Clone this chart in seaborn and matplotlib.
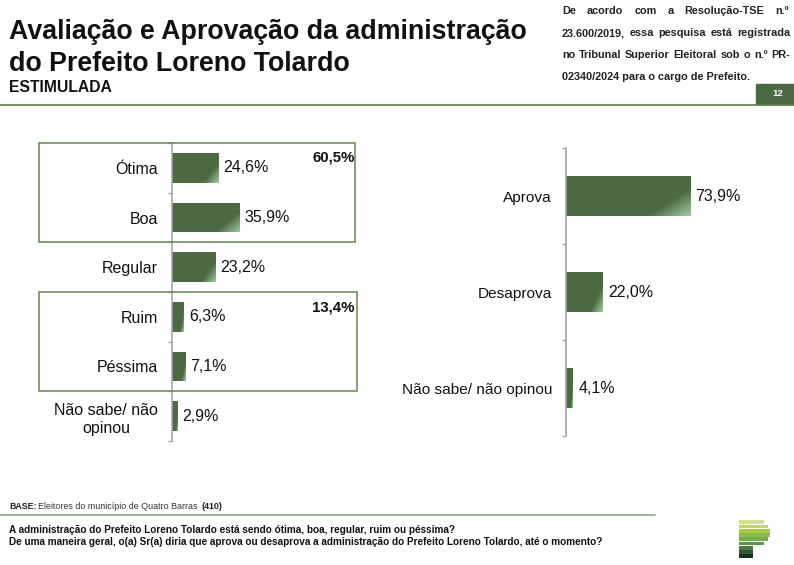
import numpy as np
import pandas as pd
import matplotlib
matplotlib.use("Agg")
import matplotlib.pyplot as plt
from matplotlib.colors import LinearSegmentedColormap
from matplotlib.patches import Rectangle
import seaborn as sns

sns.set_theme(style="white")
plt.rcParams["font.family"] = ["Liberation Sans", "DejaVu Sans"]

W, H = 794, 565

# data
aval_labels = ["Ótima", "Boa", "Regular", "Ruim", "Péssima", "Não sabe/ não\nopinou"]
aval_values = [24.6, 35.9, 23.2, 6.3, 7.1, 2.9]
aprov_labels = ["Aprova", "Desaprova", "Não sabe/ não opinou"]
aprov_values = [73.9, 22.0, 4.1]
group_top = "60,5%"
group_bottom = "13,4%"

GREEN = "#4c6a42"
LINE = "#64864a"
grad = LinearSegmentedColormap.from_list("bar", ["#4c6a42", "#a0cba0"])


def px_axes(fig, left, top, right, bottom):
    return fig.add_axes([left / W, 1 - bottom / H, (right - left) / W, (bottom - top) / H])


def fill_gradient(ax):
    # dark fill, lighter only in the lower right corner of each bar
    xx, yy = np.meshgrid(np.linspace(0, 1, 80), np.linspace(0, 1, 80))
    g = np.clip((0.87 * xx + 0.43 * yy - 1.0) / 0.3, 0, 1)
    xlim, ylim = ax.get_xlim(), ax.get_ylim()
    for bar in ax.patches:
        x0, y0 = bar.get_x(), bar.get_y()
        x1, y1 = x0 + bar.get_width(), y0 + bar.get_height()
        # y axis is inverted so the first row goes to the top
        im = ax.imshow(g, cmap=grad, vmin=0, vmax=1, aspect="auto", origin="upper",
                       extent=(x0, x1, y1, y0), zorder=bar.get_zorder() + 0.1)
        im.set_clip_path(Rectangle((x0, y0), x1 - x0, y1 - y0, transform=ax.transData))
    ax.set_xlim(xlim)
    ax.set_ylim(ylim)


def bar_panel(ax, labels, values, xmax, bar_width, label_size):
    df = pd.DataFrame({"cat": labels, "val": values})
    sns.barplot(data=df, y="cat", x="val", color=GREEN, width=bar_width, saturation=1, ax=ax)
    ax.set_xlim(0, xmax)
    ax.set_xlabel("")
    ax.set_ylabel("")
    ax.xaxis.set_visible(False)
    fill_gradient(ax)
    for c, v in enumerate(values):
        ax.annotate(f"{v:.1f}%".replace(".", ","), (v, c), xytext=(3.8, 0),
                    textcoords="offset points", va="center", ha="left",
                    fontsize=11.5, color="#111111")
    sns.despine(ax=ax, top=True, right=True, bottom=True)
    ax.spines["left"].set_color("#a6a6a6")
    ax.spines["left"].set_linewidth(1.2)
    n = len(labels)
    ax.set_yticks(np.arange(-0.5, n), minor=True)
    ax.tick_params(axis="y", which="minor", length=3, color="#a6a6a6", width=1, left=True)
    ax.tick_params(axis="y", which="major", length=0, pad=10, labelsize=label_size, labelcolor="#111111")
    ax.patch.set_alpha(0)


fig = plt.figure(figsize=(W / 100, H / 100), dpi=100)

# left panel
ax1 = px_axes(fig, 172, 143, 172 + 187, 441)
bar_panel(ax1, aval_labels, aval_values, 100, 0.6, 11.5)
for t in ax1.get_yticklabels():
    t.set_multialignment("center")
    t.set_linespacing(1.3)

# right panel
ax2 = px_axes(fig, 566, 148, 566 + 168, 436)
bar_panel(ax2, aprov_labels, aprov_values, 100, 0.41, 11.1)


# page furniture in pixel coordinates
def ftext(x, y, s, **kw):
    return fig.text(x / W, 1 - y / H, s, **kw)


def hline(x0, x1, y, color, lw):
    fig.add_artist(plt.Line2D([x0 / W, x1 / W], [1 - y / H, 1 - y / H], color=color, lw=lw))


def box(x0, y0, x1, y1):
    fig.add_artist(Rectangle((x0 / W, 1 - y1 / H), (x1 - x0) / W, (y1 - y0) / H, fill=False,
                             edgecolor=LINE, lw=1.1, transform=fig.transFigure))


def justified(x0, x1, y, s, **kw):
    # spread the words of one line evenly between x0 and x1
    words = [ftext(x0, y, w, **kw) for w in s.split()]
    rend = fig.canvas.get_renderer()
    widths = [w.get_window_extent(rend).width for w in words]
    gap = (x1 - x0 - sum(widths)) / (len(words) - 1)
    x = x0
    for w, wd in zip(words, widths):
        w.set_x(x / W)
        x += wd + gap


ftext(9, 39, "Avaliação e Aprovação da administração", fontsize=19.25, fontweight="bold",
      color="#111111", va="baseline")
ftext(9, 71, "do Prefeito Loreno Tolardo", fontsize=19.25, fontweight="bold",
      color="#111111", va="baseline")
ftext(9, 92, "ESTIMULADA", fontsize=11.3, fontweight="bold", color="#111111", va="baseline")

note_style = dict(fontsize=7.8, fontweight="bold", color="#222222", va="baseline")
justified(562, 789, 14.5, "De acordo com a Resolução-TSE n.º", **note_style)
justified(562, 790, 36.5, "23.600/2019, essa pesquisa está registrada", **note_style)
justified(562, 790, 58, "no Tribunal Superior Eleitoral sob o n.º PR-", **note_style)
ftext(562, 79.5, "02340/2024 para o cargo de Prefeito.", **note_style)

hline(0, 794, 104.5, "#5f8040", 1.2)
fig.add_artist(Rectangle((756 / W, 1 - 104 / H), 38 / W, 20 / H, color=GREEN, transform=fig.transFigure))
ftext(778, 94, "12", fontsize=6.8, fontweight="bold", color="white", ha="center", va="center")

box(39, 143, 355, 242)
box(39, 292, 356.5, 390.5)
ftext(354.5, 161, group_top, fontsize=10.8, fontweight="bold", ha="right", va="baseline", color="#111111")
ftext(354.5, 311, group_bottom, fontsize=10.8, fontweight="bold", ha="right", va="baseline", color="#111111")

ftext(9, 509, "BASE:", fontsize=6.4, fontweight="bold", color="#222222", va="baseline")
ftext(38, 509, "Eleitores do município de Quatro Barras", fontsize=6.4, color="#333333", va="baseline")
ftext(201, 509, "(410)", fontsize=6.4, fontweight="bold", color="#222222", va="baseline")
hline(0, 655, 514.5, "#9aae80", 1.3)
ftext(9, 533, "A administração do Prefeito Loreno Tolardo está sendo ótima, boa, regular, ruim ou péssima?",
      fontsize=7.2, fontweight="bold", color="#111111", va="baseline")
ftext(9, 545, "De uma maneira geral, o(a) Sr(a) diria que aprova ou desaprova a administração do Prefeito Loreno Tolardo, até o momento?",
      fontsize=7.2, fontweight="bold", color="#111111", va="baseline")

# logo
logo_cols = ["#d6e08a", "#c4d85a", "#a6ca40", "#8cbe4a", "#6cb04a", "#579846", "#4c7a3d", "#2f5636", "#0c361f"]
logo_right = [764, 768, 770, 770, 768, 764, 753, 753, 753]
for i, (c, r) in enumerate(zip(logo_cols, logo_right)):
    y = 520.4 + i * 4.25
    fig.add_artist(Rectangle((739 / W, 1 - (y + 3.8) / H), (r - 739) / W, 3.8 / H, facecolor=c,
                             edgecolor="none", transform=fig.transFigure))

fig.savefig("out.png", dpi=100)
